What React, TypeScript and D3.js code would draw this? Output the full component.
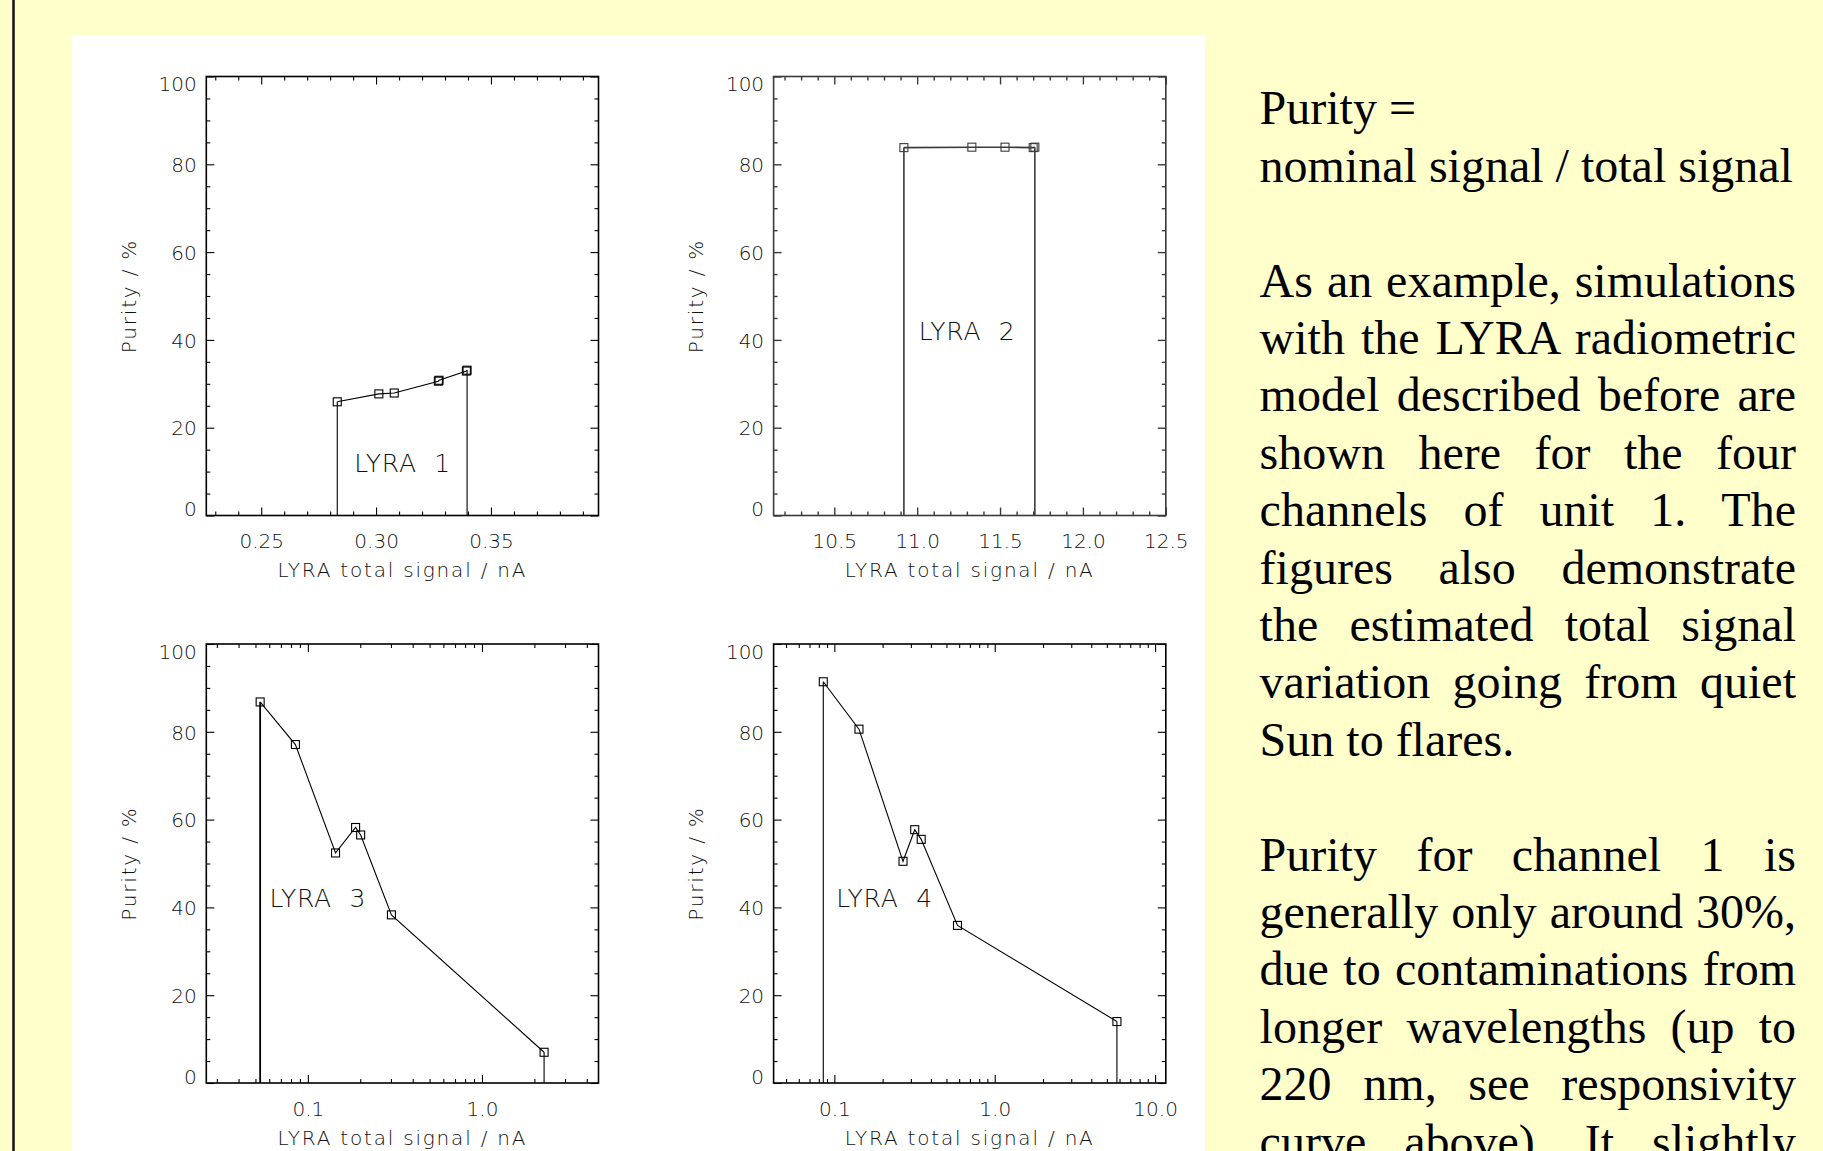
import React, { useEffect, useRef } from 'react';
import * as d3 from 'd3';

const W = 1823;
const H = 1151;

// ---- data ----
const lyra1Signal = [0.2831, 0.3012, 0.3079, 0.3271, 0.3274, 0.3393, 0.3396];
const lyra1Purity = [25.9, 27.7, 27.9, 30.6, 30.8, 32.9, 33.1];

const lyra2Signal = [10.92, 11.33, 11.53, 11.70, 11.71];
const lyra2Purity = [83.8, 83.9, 83.9, 83.8, 83.9];

const lyra3Signal = [0.0532, 0.0848, 0.1442, 0.188, 0.201, 0.302, 2.274];
const lyra3Purity = [86.8, 77.1, 52.4, 58.2, 56.5, 38.3, 7.0];

const lyra4Signal = [0.0853, 0.1424, 0.268, 0.317, 0.348, 0.586, 5.78];
const lyra4Purity = [91.4, 80.6, 50.5, 57.7, 55.5, 35.9, 14.0];

const purityTicks = [0, 20, 40, 60, 80, 100];
const xTicks1 = [0.25, 0.30, 0.35];
const xTickLabels1 = ['0.25', '0.30', '0.35'];
const xTicks2 = [10.5, 11.0, 11.5, 12.0, 12.5];
const xTickLabels2 = ['10.5', '11.0', '11.5', '12.0', '12.5'];
const xTicks3 = [0.1, 1.0];
const xTickLabels3 = ['0.1', '1.0'];
const xTicks4 = [0.1, 1.0, 10.0];
const xTickLabels4 = ['0.1', '1.0', '10.0'];

const channelNames = ['LYRA  1', 'LYRA  2', 'LYRA  3', 'LYRA  4'];
const xTitle = 'LYRA total signal / nA';
const yTitle = 'Purity / %';

const textLines = [
  'Purity =',
  'nominal signal / total signal',
  '',
  'As an example, simulations',
  'with the LYRA radiometric',
  'model described before are',
  'shown here for the four',
  'channels of unit 1. The',
  'figures also demonstrate',
  'the estimated total signal',
  'variation going from quiet',
  'Sun to flares.',
  '',
  'Purity for channel 1 is',
  'generally only around 30%,',
  'due to contaminations from',
  'longer wavelengths (up to',
  '220 nm, see responsivity',
  'curve above). It slightly',
];
const justified = [false, false, false, true, true, true, true, true, true, true, true, false, false, true, true, true, true, true, true];

// ---- layout ----
const colLeft = [206.3, 773.6];
const plotW = 392.2;
const rowTop = [76.5, 644.0];
const plotH = 439.0;

const FONT = '"DejaVu Sans", sans-serif';

type Panel = {
  signal: number[];
  purity: number[];
  log: boolean;
  domain: [number, number];
  ticks: number[];
  tickLabels: string[];
  minorStep?: number;
  name: string;
  nameAt: [number, number];
  col: number;
  row: number;
  color: string;
  width: number;
};

const panels: Panel[] = [
  { signal: lyra1Signal, purity: lyra1Purity, log: false, domain: [0.2261, 0.3968], ticks: xTicks1, tickLabels: xTickLabels1, minorStep: 0.01, name: channelNames[0], nameAt: [0.2905, 10], col: 0, row: 0, color: '#000', width: 1.1 },
  { signal: lyra2Signal, purity: lyra2Purity, log: false, domain: [10.134, 12.5], ticks: xTicks2, tickLabels: xTickLabels2, minorStep: 0.1, name: channelNames[1], nameAt: [11.01, 40], col: 1, row: 0, color: '#3a3a3a', width: 1.6 },
  { signal: lyra3Signal, purity: lyra3Purity, log: true, domain: [0.0261, 4.67], ticks: xTicks3, tickLabels: xTickLabels3, name: channelNames[2], nameAt: [0.0602, 40], col: 0, row: 1, color: '#000', width: 1.1 },
  { signal: lyra4Signal, purity: lyra4Purity, log: true, domain: [0.0418, 11.66], ticks: xTicks4, tickLabels: xTickLabels4, name: channelNames[3], nameAt: [0.1026, 40], col: 1, row: 1, color: '#000', width: 1.1 },
];

function minorTicks(p: Panel): number[] {
  const [a, b] = p.domain;
  const out: number[] = [];
  if (p.log) {
    for (let e = Math.floor(Math.log10(a)); e <= Math.ceil(Math.log10(b)); e++) {
      for (let k = 1; k <= 9; k++) {
        const v = k * Math.pow(10, e);
        if (v >= a && v <= b) out.push(v);
      }
    }
  } else {
    const s = p.minorStep as number;
    for (let i = Math.ceil(a / s - 1e-9); i * s <= b + 1e-9; i++) out.push(i * s);
  }
  return out;
}

function drawPanel(root: d3.Selection<SVGGElement, unknown, null, undefined>, p: Panel) {
  const left = colLeft[p.col];
  const top = rowTop[p.row];
  const right = left + plotW;
  const bottom = top + plotH;
  const x: any = (p.log ? d3.scaleLog() : d3.scaleLinear()).domain(p.domain).range([left, right]);
  const y = d3.scaleLinear().domain([0, 100]).range([bottom, top]);
  const g = root.append('g');
  const col = p.color;

  const styleAxis = (sel: any) => {
    sel.select('.domain').remove();
    sel.selectAll('line').attr('stroke', col).attr('stroke-width', p.col === 1 && p.row === 0 ? 1.4 : 1.1);
    sel.selectAll('text')
      .attr('fill', '#111')
      .attr('font-family', FONT)
      .attr('font-weight', 200)
      .attr('font-size', 20);
  };

  const minors = minorTicks(p).filter(v => !p.ticks.some(t => Math.abs(t - v) < 1e-9));
  const yMinors = d3.range(0, 101, 5).filter(v => v % 20 !== 0);

  // bottom axis
  g.append('g').attr('transform', `translate(0,${bottom})`)
    .call(d3.axisBottom(x).tickValues(p.ticks).tickSize(-8).tickSizeOuter(0).tickPadding(18.3)
      .tickFormat((_d: any, i: number) => p.tickLabels[i]))
    .call(styleAxis);
  g.append('g').attr('transform', `translate(0,${bottom})`)
    .call(d3.axisBottom(x).tickValues(minors).tickSize(-4).tickSizeOuter(0).tickFormat(() => ''))
    .call(styleAxis);
  // top axis
  g.append('g').attr('transform', `translate(0,${top})`)
    .call(d3.axisTop(x).tickValues(p.ticks).tickSize(-8).tickSizeOuter(0).tickFormat(() => ''))
    .call(styleAxis);
  g.append('g').attr('transform', `translate(0,${top})`)
    .call(d3.axisTop(x).tickValues(minors).tickSize(-4).tickSizeOuter(0).tickFormat(() => ''))
    .call(styleAxis);
  // left axis
  const la = g.append('g').attr('transform', `translate(${left},0)`)
    .call(d3.axisLeft(y).tickValues(purityTicks).tickSize(-8).tickSizeOuter(0).tickPadding(9.5).tickFormat(d3.format('d')))
    .call(styleAxis);
  la.selectAll('text').attr('dy', (d: any) => (d === 100 ? '0.72em' : d === 0 ? '0.02em' : '0.36em'));
  g.append('g').attr('transform', `translate(${left},0)`)
    .call(d3.axisLeft(y).tickValues(yMinors).tickSize(-4).tickSizeOuter(0).tickFormat(() => ''))
    .call(styleAxis);
  // right axis
  g.append('g').attr('transform', `translate(${right},0)`)
    .call(d3.axisRight(y).tickValues(purityTicks).tickSize(-8).tickSizeOuter(0).tickFormat(() => ''))
    .call(styleAxis);
  g.append('g').attr('transform', `translate(${right},0)`)
    .call(d3.axisRight(y).tickValues(yMinors).tickSize(-4).tickSizeOuter(0).tickFormat(() => ''))
    .call(styleAxis);

  // frame
  g.append('rect').attr('x', left).attr('y', top).attr('width', plotW).attr('height', plotH)
    .attr('fill', 'none').attr('stroke', col).attr('stroke-width', 1.6);

  // titles
  g.append('text').attr('x', (left + right) / 2).attr('y', bottom + 61.5)
    .attr('text-anchor', 'middle').attr('font-family', FONT).attr('font-weight', 200)
    .attr('font-size', 20).attr('letter-spacing', 1.8).attr('fill', '#111').text(xTitle);
  g.append('text').attr('transform', `translate(${left - 70.5},${(top + bottom) / 2}) rotate(-90)`)
    .attr('text-anchor', 'middle').attr('font-family', FONT).attr('font-weight', 200)
    .attr('font-size', 20).attr('letter-spacing', 1.8).attr('fill', '#111').text(yTitle);

  // channel name
  g.append('text').attr('x', x(p.nameAt[0])).attr('y', y(p.nameAt[1]))
    .attr('font-family', FONT).attr('font-weight', 200).attr('font-size', 25)
    .attr('letter-spacing', 0.8).style('white-space', 'pre').attr('fill', '#111').text(p.name);

  const pts = p.signal.map((s, i) => [s, p.purity[i]] as [number, number]);
  const line = d3.line<[number, number]>().x(d => x(d[0])).y(d => y(d[1]));
  g.append('path').attr('d', line(pts) as string).attr('fill', 'none').attr('stroke', col).attr('stroke-width', p.width);

  const first = pts[0];
  const last = pts[pts.length - 1];
  const drops: [number, number][][] = [
    [[first[0], first[1]], [first[0], 0]],
    [[last[0], last[1]], [last[0], 0]],
  ];
  drops.forEach((seg, i) => {
    g.append('path').attr('d', line(seg) as string).attr('fill', 'none').attr('stroke', col)
      .attr('stroke-width', p.row === 1 && p.col === 0 && i === 0 ? 1.8 : p.width);
  });

  g.selectAll('rect.mk').data(pts).enter().append('rect').attr('class', 'mk')
    .attr('x', d => x(d[0]) - 4).attr('y', d => y(d[1]) - 4)
    .attr('width', 8).attr('height', 8)
    .attr('fill', 'none').attr('stroke', col).attr('stroke-width', 1.1);
}

export default function App() {
  const ref = useRef<SVGSVGElement>(null);

  useEffect(() => {
    document.body.style.margin = '0';
    document.body.style.overflow = 'hidden';
    const svg = d3.select(ref.current as SVGSVGElement);
    svg.selectAll('*').remove();
    const root = svg.append('g');

    // background
    root.append('rect').attr('x', 0).attr('y', 0).attr('width', W).attr('height', H).attr('fill', '#ffffcc');
    root.append('line').attr('x1', 13.5).attr('x2', 13.5).attr('y1', 0).attr('y2', H)
      .attr('stroke', '#1a1a1a').attr('stroke-width', 2.6);
    root.append('rect').attr('x', 72).attr('y', 35).attr('width', 1133).attr('height', H - 35).attr('fill', '#ffffff');

    panels.forEach(p => drawPanel(root, p));

    // right-hand text, justified
    const tx = 1259.6;
    const tw = 536.4;
    const tg = root.append('g');
    textLines.forEach((ln, i) => {
      if (!ln) return;
      const t = tg.append('text').attr('x', tx).attr('y', 124.4 + i * 57.4)
        .attr('font-family', '"Liberation Serif", "Times New Roman", serif')
        .attr('font-size', 48).attr('fill', '#000').text(ln);
      if (justified[i]) {
        const node = t.node() as SVGTextElement;
        const w = node.getComputedTextLength();
        const spaces = (ln.match(/ /g) || []).length;
        if (spaces > 0) t.attr('word-spacing', (tw - w) / spaces);
      }
    });
  }, []);

  return (
    <svg ref={ref} width={W} height={H} style={{ position: 'absolute', left: 0, top: 0, display: 'block' }} />
  );
}
